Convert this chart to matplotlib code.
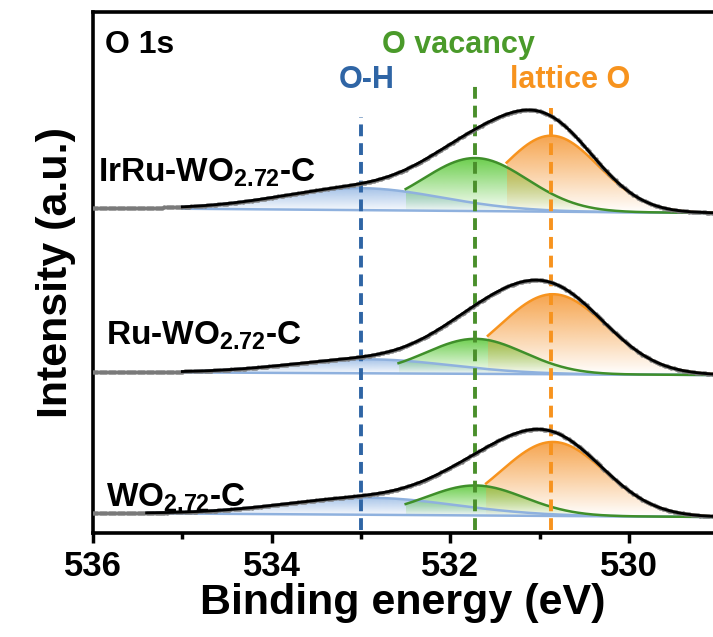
import numpy as np
import matplotlib
matplotlib.use('Agg')
import matplotlib.pyplot as plt
import matplotlib.colors as mcolors
from matplotlib.ticker import MultipleLocator

plt.rcParams['font.family'] = ['Liberation Sans', 'DejaVu Sans']
plt.rcParams['font.weight'] = 'bold'
plt.rcParams['axes.labelweight'] = 'bold'
plt.rcParams['mathtext.fontset'] = 'custom'
plt.rcParams['mathtext.rm'] = 'Liberation Sans:bold'
plt.rcParams['mathtext.default'] = 'rm'
plt.rcParams['lines.scale_dashes'] = False

# samples, top to bottom
samples = ['IrRu-WO$_{2.72}$-C', 'Ru-WO$_{2.72}$-C', 'WO$_{2.72}$-C']
label_x = [535.94, 535.85, 535.85]
label_y = [351, 188, 26]
base_left = [325, 161, 20]    # background at 536 eV
base_right = [320, 158, 16]   # background at 529 eV
fit_start = [535.0, 535.0, 535.4]

# fitted components (center eV, height, width eV, where curve starts)
oh_center = [533.0, 532.9, 532.9]
oh_height = [22, 14, 17]
oh_width = [0.9, 0.9, 0.95]
oh_start = [535.0, 535.0, 535.4]

ov_center = [531.72, 531.72, 531.72]
ov_height = [53, 35, 30]
ov_width = [0.58, 0.55, 0.55]
ov_start = [532.5, 532.58, 532.5]

ol_center = [530.87, 530.85, 530.85]
ol_height = [76, 80, 74]
ol_width = [0.53, 0.6, 0.58]
ol_start = [531.37, 531.58, 531.6]

# reference positions of the three species
ref_names = ['O-H', 'O vacancy', 'lattice O']
ref_pos = [533.0, 531.72, 530.87]
ref_top = [416, 450, 425]
ref_colors = ['#2f65a5', '#4a8f2b', '#f7931e']

line_cols = ['#8fb1de', '#3f8f2a', '#f7931e']
fill_cols = ['#9dbde6', '#5cc93a', '#f59a3a']


def gauss(x, c, h, w):
    return h * np.exp(-0.5 * ((x - c) / w) ** 2)


def grad_fill(ax, xs, lo, hi, color):
    poly = ax.fill_between(xs, lo, hi, facecolor='none', edgecolor='none')
    path = poly.get_paths()[0]
    grad = np.ones((120, 1, 4))
    grad[..., :3] = mcolors.to_rgb(color)
    grad[..., 3] = np.linspace(0, 0.9, 120)[:, None]
    im = ax.imshow(grad, extent=[xs.max(), xs.min(), lo.min(), hi.max()],
                   origin='lower', aspect='auto', zorder=1,
                   interpolation='bilinear')
    im.set_clip_path(path, ax.transData)


fig = plt.figure(figsize=(7.13, 6.37), dpi=100)
ax = fig.add_axes([93 / 713, 104 / 637, 620 / 713, 521 / 637])

x_all = np.arange(536.0, 529.0, -0.025)
for i in range(3):
    def bg(x):
        return base_left[i] + (base_right[i] - base_left[i]) * (536 - x) / 7

    comps = [(oh_center[i], oh_height[i], oh_width[i], oh_start[i]),
             (ov_center[i], ov_height[i], ov_width[i], ov_start[i]),
             (ol_center[i], ol_height[i], ol_width[i], ol_start[i])]

    # background line
    xf = np.linspace(fit_start[i], 529.0, 400)
    ax.plot(xf, bg(xf), color=line_cols[0], lw=1.8, zorder=2)

    for k, (c, h, w, s) in enumerate(comps):
        xs = np.linspace(s, 529.0, 300)
        lo = bg(xs)
        hi = lo + gauss(xs, c, h, w)
        grad_fill(ax, xs, lo, hi, fill_cols[k])
        ax.plot(xs, hi, color=line_cols[k], lw=1.8, zorder=2)

    data = bg(x_all) + sum(gauss(x_all, c, h, w) for c, h, w, s in comps)
    ax.plot(x_all, data, 'o', ms=3.2, color='#7a7a7a', mec='none', zorder=4)

    env = bg(xf) + sum(gauss(xf, c, h, w) for c, h, w, s in comps)
    ax.plot(xf, env, color='black', lw=2.0, zorder=5)

    ax.text(label_x[i], label_y[i], samples[i], fontsize=24,
            ha='left', va='baseline', zorder=6)

for k in range(3):
    ax.plot([ref_pos[k], ref_pos[k]], [3, ref_top[k]], color=ref_colors[k],
            lw=2.8, dashes=(8.5, 5), zorder=3)

ax.text(535.87, 488, 'O 1s', fontsize=23, ha='left', va='center')
ax.text(531.91, 488, ref_names[1], color='#4a9a2a', fontsize=22,
        ha='center', va='center')
ax.text(532.94, 453, ref_names[0], color=ref_colors[0], fontsize=22,
        ha='center', va='center')
ax.text(530.66, 453, ref_names[2], color=ref_colors[2], fontsize=22,
        ha='center', va='center')

ax.set_xlim(536, 529.06)
ax.set_ylim(0, 521)
ax.xaxis.set_major_locator(MultipleLocator(2))
ax.xaxis.set_minor_locator(MultipleLocator(1))
ax.set_yticks([])
ax.spines['right'].set_visible(False)
for s in ['left', 'top', 'bottom']:
    ax.spines[s].set_linewidth(2.6)
ax.tick_params(axis='x', which='major', length=7, width=2.5, labelsize=25,
               pad=5)
ax.tick_params(axis='x', which='minor', length=4, width=2.5)

ax.set_xlabel('Binding energy (eV)', fontsize=31, labelpad=0)
ax.set_ylabel('Intensity (a.u.)', fontsize=31, labelpad=12)

fig.savefig('out.png', dpi=100)
